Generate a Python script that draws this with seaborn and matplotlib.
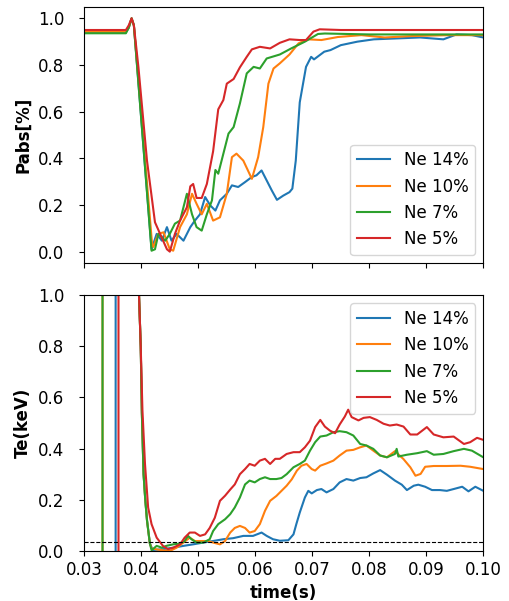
import matplotlib
matplotlib.use("Agg")
import matplotlib.pyplot as plt
from matplotlib.lines import Line2D
import pandas as pd
import seaborn as sns

# ---- series labels and colours -------------------------------------------
cases = ["Ne 14%", "Ne 10%", "Ne 7%", "Ne 5%"]
colors = ["#1f77b4", "#ff7f0e", "#2ca02c", "#d62728"]

# ---- absorbed power fraction (Pabs) ---------------------------------------
pabs_t_14 = [0.0300, 0.0373, 0.0378, 0.0383, 0.0387, 0.0418, 0.0427, 0.0436, 0.0445, 0.0453,
             0.0462, 0.0474, 0.0486, 0.0494, 0.0503, 0.0512, 0.0521, 0.0530, 0.0538, 0.0550,
             0.0559, 0.0570, 0.0582, 0.0594, 0.0602, 0.0611, 0.0620, 0.0629, 0.0638, 0.0649,
             0.0660, 0.0665, 0.0671, 0.0678, 0.0689, 0.0698, 0.0703, 0.0721, 0.0732, 0.0750,
             0.0779, 0.0808, 0.0849, 0.0889, 0.0930, 0.0953, 0.0980, 0.1000]
pabs_14 = [0.940, 0.940, 0.960, 1.000, 0.970, 0.010, 0.076, 0.047, 0.105, 0.047,
           0.076, 0.047, 0.105, 0.133, 0.160, 0.234, 0.198, 0.176, 0.220, 0.248,
           0.284, 0.277, 0.298, 0.320, 0.327, 0.348, 0.305, 0.262, 0.222, 0.240,
           0.255, 0.270, 0.390, 0.640, 0.792, 0.835, 0.824, 0.857, 0.864, 0.885,
           0.900, 0.910, 0.914, 0.918, 0.910, 0.931, 0.928, 0.918]

pabs_t_10 = [0.0300, 0.0373, 0.0378, 0.0383, 0.0387, 0.0419, 0.0421, 0.0430, 0.0439, 0.0450,
             0.0456, 0.0468, 0.0480, 0.0489, 0.0497, 0.0506, 0.0515, 0.0526, 0.0538, 0.0550,
             0.0559, 0.0567, 0.0579, 0.0594, 0.0605, 0.0614, 0.0623, 0.0632, 0.0643, 0.0660,
             0.0676, 0.0693, 0.0716, 0.0745, 0.0786, 0.0827, 0.0874, 0.0940, 0.1000]
pabs_10 = [0.943, 0.943, 0.960, 1.000, 0.970, 0.030, 0.020, 0.076, 0.083, 0.010,
           0.004, 0.105, 0.160, 0.248, 0.205, 0.160, 0.205, 0.133, 0.147, 0.248,
           0.405, 0.420, 0.390, 0.312, 0.405, 0.534, 0.720, 0.785, 0.807, 0.845,
           0.893, 0.910, 0.907, 0.920, 0.928, 0.918, 0.924, 0.928, 0.928]

pabs_t_7 = [0.0300, 0.0373, 0.0378, 0.0383, 0.0387, 0.0418, 0.0424, 0.0430, 0.0442, 0.0450,
            0.0459, 0.0468, 0.0480, 0.0489, 0.0497, 0.0506, 0.0515, 0.0524, 0.0530, 0.0535,
            0.0544, 0.0553, 0.0562, 0.0573, 0.0585, 0.0597, 0.0608, 0.0620, 0.0643, 0.0663,
            0.0687, 0.0710, 0.0722, 0.0800, 0.1000]
pabs_7 = [0.936, 0.936, 0.960, 1.000, 0.970, 0.004, 0.010, 0.076, 0.047, 0.076,
          0.120, 0.133, 0.248, 0.160, 0.105, 0.090, 0.160, 0.220, 0.350, 0.334,
          0.420, 0.506, 0.534, 0.635, 0.764, 0.792, 0.785, 0.828, 0.845, 0.871,
          0.900, 0.933, 0.935, 0.931, 0.931]

pabs_t_5 = [0.0300, 0.0373, 0.0378, 0.0383, 0.0387, 0.0395, 0.0410, 0.0424, 0.0433, 0.0445,
            0.0450, 0.0459, 0.0468, 0.0480, 0.0486, 0.0491, 0.0497, 0.0506, 0.0515, 0.0526,
            0.0535, 0.0544, 0.0550, 0.0562, 0.0573, 0.0585, 0.0594, 0.0608, 0.0626, 0.0643,
            0.0660, 0.0678, 0.0689, 0.0702, 0.0713, 0.0750, 0.1000]
pabs_5 = [0.950, 0.950, 0.970, 1.000, 0.970, 0.790, 0.390, 0.126, 0.076, 0.010,
          0.000, 0.076, 0.133, 0.190, 0.280, 0.290, 0.230, 0.230, 0.290, 0.430,
          0.610, 0.650, 0.720, 0.740, 0.790, 0.835, 0.867, 0.878, 0.871, 0.895,
          0.910, 0.907, 0.907, 0.943, 0.953, 0.950, 0.950]

# ---- electron temperature (Te, keV) ---------------------------------------
te_t_14 = [0.0300, 0.0355, 0.0355, 0.0394, 0.0396, 0.0399, 0.0401, 0.0404, 0.0407, 0.0410,
           0.0415, 0.0420, 0.0438, 0.0456, 0.0474, 0.0491, 0.0509, 0.0526, 0.0544, 0.0561,
           0.0579, 0.0596, 0.0611, 0.0620, 0.0631, 0.0643, 0.0658, 0.0667, 0.0672, 0.0678,
           0.0687, 0.0693, 0.0699, 0.0708, 0.0716, 0.0725, 0.0737, 0.0748, 0.0760, 0.0772,
           0.0784, 0.0795, 0.0807, 0.0819, 0.0831, 0.0845, 0.0857, 0.0866, 0.0878, 0.0886,
           0.0898, 0.0910, 0.0924, 0.0936, 0.0948, 0.0963, 0.0974, 0.0986, 0.1000]
te_14 = [-0.20, -0.20, 2.00, 2.00, 1.000, 0.800, 0.540, 0.300, 0.200, 0.120,
         0.030, 0.004, 0.007, 0.013, 0.020, 0.026, 0.033, 0.039, 0.046, 0.050,
         0.059, 0.059, 0.072, 0.059, 0.046, 0.040, 0.042, 0.065, 0.105, 0.150,
         0.209, 0.235, 0.225, 0.238, 0.242, 0.229, 0.242, 0.268, 0.281, 0.275,
         0.285, 0.288, 0.303, 0.316, 0.298, 0.275, 0.259, 0.238, 0.255, 0.259,
         0.251, 0.238, 0.238, 0.235, 0.242, 0.251, 0.233, 0.251, 0.235]

te_t_10 = [0.0300, 0.0332, 0.0332, 0.0394, 0.0396, 0.0399, 0.0401, 0.0404, 0.0407, 0.0410,
           0.0415, 0.0418, 0.0430, 0.0450, 0.0462, 0.0474, 0.0485, 0.0494, 0.0506, 0.0517,
           0.0526, 0.0538, 0.0547, 0.0556, 0.0564, 0.0573, 0.0582, 0.0590, 0.0599, 0.0608,
           0.0617, 0.0626, 0.0637, 0.0646, 0.0655, 0.0664, 0.0673, 0.0681, 0.0690, 0.0699,
           0.0705, 0.0714, 0.0725, 0.0737, 0.0748, 0.0760, 0.0772, 0.0784, 0.0795, 0.0807,
           0.0819, 0.0831, 0.0845, 0.0860, 0.0872, 0.0881, 0.0890, 0.0898, 0.0913, 0.0936,
           0.0960, 0.0977, 0.1000]
te_10 = [-0.20, -0.20, 2.00, 2.00, 1.000, 0.800, 0.540, 0.300, 0.200, 0.120,
         0.030, 0.010, 0.005, 0.000, 0.013, 0.033, 0.052, 0.039, 0.039, 0.039,
         0.033, 0.026, 0.039, 0.072, 0.090, 0.098, 0.090, 0.072, 0.078, 0.105,
         0.157, 0.196, 0.215, 0.235, 0.255, 0.280, 0.314, 0.333, 0.340, 0.320,
         0.314, 0.333, 0.342, 0.353, 0.373, 0.392, 0.395, 0.405, 0.412, 0.392,
         0.373, 0.366, 0.390, 0.359, 0.327, 0.294, 0.301, 0.329, 0.332, 0.332,
         0.333, 0.329, 0.320]

te_t_7 = [0.0300, 0.0332, 0.0332, 0.0394, 0.0396, 0.0399, 0.0401, 0.0404, 0.0407, 0.0410,
          0.0415, 0.0418, 0.0427, 0.0436, 0.0444, 0.0456, 0.0468, 0.0476, 0.0482, 0.0488,
          0.0497, 0.0509, 0.0520, 0.0526, 0.0535, 0.0547, 0.0556, 0.0564, 0.0573, 0.0582,
          0.0590, 0.0599, 0.0608, 0.0617, 0.0626, 0.0637, 0.0646, 0.0655, 0.0667, 0.0678,
          0.0687, 0.0696, 0.0705, 0.0714, 0.0725, 0.0737, 0.0748, 0.0760, 0.0772, 0.0784,
          0.0795, 0.0807, 0.0819, 0.0831, 0.0845, 0.0848, 0.0851, 0.0866, 0.0884, 0.0901,
          0.0913, 0.0930, 0.0948, 0.0966, 0.0980, 0.1000]
te_7 = [-0.20, -0.20, 2.00, 2.00, 1.000, 0.800, 0.540, 0.300, 0.200, 0.120,
        0.030, 0.003, 0.020, 0.013, 0.020, 0.026, 0.029, 0.039, 0.059, 0.046,
        0.033, 0.033, 0.046, 0.078, 0.105, 0.124, 0.144, 0.170, 0.209, 0.260,
        0.275, 0.268, 0.281, 0.288, 0.281, 0.281, 0.285, 0.300, 0.327, 0.340,
        0.353, 0.392, 0.425, 0.447, 0.451, 0.464, 0.468, 0.464, 0.451, 0.418,
        0.412, 0.399, 0.373, 0.366, 0.379, 0.399, 0.369, 0.376, 0.382, 0.390,
        0.376, 0.379, 0.390, 0.399, 0.392, 0.366]

te_t_5 = [0.0300, 0.0360, 0.0360, 0.0394, 0.0396, 0.0399, 0.0402, 0.04065, 0.0412, 0.0418,
          0.0427, 0.0438, 0.0447, 0.0456, 0.0468, 0.0476, 0.0485, 0.0494, 0.0503, 0.0512,
          0.0520, 0.0529, 0.0538, 0.0547, 0.0556, 0.0564, 0.0573, 0.0582, 0.0590, 0.0599,
          0.0608, 0.0617, 0.0626, 0.0635, 0.0643, 0.0655, 0.0667, 0.0678, 0.0687, 0.0696,
          0.0705, 0.0714, 0.0722, 0.0731, 0.0740, 0.0748, 0.0757, 0.0763, 0.0769, 0.0781,
          0.0790, 0.0801, 0.0813, 0.0825, 0.0836, 0.0848, 0.0860, 0.0872, 0.0884, 0.0901,
          0.0913, 0.0930, 0.0948, 0.0966, 0.0977, 0.0989, 0.1000]
te_5 = [-0.20, -0.20, 2.00, 2.00, 1.000, 0.800, 0.550, 0.340, 0.170, 0.105,
        0.052, 0.020, 0.007, 0.013, 0.026, 0.052, 0.072, 0.072, 0.059, 0.065,
        0.090, 0.130, 0.196, 0.216, 0.240, 0.260, 0.300, 0.320, 0.340, 0.333,
        0.353, 0.360, 0.340, 0.360, 0.360, 0.379, 0.386, 0.386, 0.405, 0.431,
        0.484, 0.512, 0.486, 0.470, 0.460, 0.494, 0.525, 0.552, 0.523, 0.510,
        0.520, 0.523, 0.512, 0.497, 0.490, 0.494, 0.486, 0.455, 0.455, 0.484,
        0.455, 0.444, 0.447, 0.418, 0.425, 0.442, 0.434]

te_threshold = 0.035  # keV, dashed reference level


def long_frame(times, values):
    parts = []
    for name, t, v in zip(cases, times, values):
        parts.append(pd.DataFrame({"time": t, "value": v, "case": name}))
    return pd.concat(parts, ignore_index=True)


pabs_df = long_frame([pabs_t_14, pabs_t_10, pabs_t_7, pabs_t_5],
                     [pabs_14, pabs_10, pabs_7, pabs_5])
te_df = long_frame([te_t_14, te_t_10, te_t_7, te_t_5],
                   [te_14, te_10, te_7, te_5])

plt.rcParams.update({
    "font.family": "DejaVu Sans",
    "font.size": 12,
    "xtick.labelsize": 12,
    "ytick.labelsize": 12,
    "xtick.major.size": 3.5,
    "ytick.major.size": 3.5,
    "ytick.major.pad": 11,
})

fig = plt.figure(figsize=(5.09, 6.01), dpi=100)
ax_top = fig.add_axes([0.1656, 0.5619, 0.7839, 0.4270])
ax_bot = fig.add_axes([0.1656, 0.0832, 0.7839, 0.4260], sharex=ax_top)

palette = dict(zip(cases, colors))
for ax, df in ((ax_top, pabs_df), (ax_bot, te_df)):
    sns.lineplot(data=df, x="time", y="value", hue="case", hue_order=cases,
                 palette=palette, estimator=None, sort=False, legend=False,
                 linewidth=1.5, ax=ax)

handles = [Line2D([], [], color=c, lw=1.5, label=n) for n, c in zip(cases, colors)]

ax_top.set_ylim(-0.05, 1.05)
ax_top.set_yticks([0.0, 0.2, 0.4, 0.6, 0.8, 1.0])
ax_top.set_ylabel("Pabs[%]", fontweight="bold")
ax_top.set_xlabel("")
ax_top.tick_params(labelbottom=False)
ax_top.legend(handles=handles, loc="lower right", fontsize=12)

ax_bot.axhline(te_threshold, color="black", linestyle="--", linewidth=0.8)
ax_bot.set_ylim(0.0, 1.0)
ax_bot.set_yticks([0.0, 0.2, 0.4, 0.6, 0.8, 1.0])
ax_bot.set_xlim(0.03, 0.10)
ax_bot.set_xticks([0.03, 0.04, 0.05, 0.06, 0.07, 0.08, 0.09, 0.10])
ax_bot.set_xticklabels(["0.03", "0.04", "0.05", "0.06", "0.07", "0.08", "0.09", "0.10"])
ax_bot.set_ylabel("Te(keV)", fontweight="bold")
ax_bot.set_xlabel("time(s)", fontweight="bold")
ax_bot.legend(handles=handles, loc="upper right", fontsize=12)

fig.savefig("out.png", dpi=100)
